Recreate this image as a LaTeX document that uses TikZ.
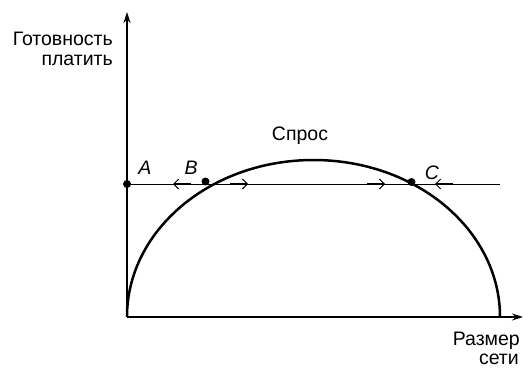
\documentclass[tikz,border=0pt]{standalone}
\usepackage{fontspec}
\setmainfont{Liberation Sans}
\usetikzlibrary{arrows.meta}
\begin{document}
\begin{tikzpicture}[x=1pt,y=-1pt,
  lbl/.style={font=\fontsize{19.5}{21}\selectfont, inner sep=0pt},
  ilbl/.style={lbl, font=\fontsize{19.5}{21}\selectfont\itshape},
  dot/.style={circle,fill=black,inner sep=0pt,minimum size=8pt},
  axis/.style={line width=1.2pt,-{Stealth[length=11pt,width=7pt]}},
  flow/.style={line width=1.1pt,-{Straight Barb[length=5pt,width=10pt,line width=1pt]}}]
\useasboundingbox (0,0) rectangle (524,367);
% axes
\coordinate (O) at (127,317);
\coordinate (Ytop) at (127,12);
\coordinate (Xend) at (523,317);
\draw[axis] (O) -- (Ytop);
\draw[axis] (O) -- (Xend);
% demand curve
\draw[line width=2.5pt] (127,317) arc[start angle=180,end angle=360,x radius=186.5,y radius=157];
% horizontal price line
\coordinate (Lend) at (500,184);
\node[dot] (A) at (127,184) {};
\draw[line width=0.9pt] (A.center) -- (Lend);
\node[dot] (B) at (205.5,181.5) {};
\node[dot] (C) at (411.5,182) {};
% flow arrows
\coordinate (b1s) at (191,184); \coordinate (b1e) at (173,184);
\coordinate (b2s) at (230,184); \coordinate (b2e) at (248,184);
\coordinate (c1s) at (367,184); \coordinate (c1e) at (385,184);
\coordinate (c2s) at (453,184); \coordinate (c2e) at (435,184);
\draw[flow] (b1s) -- (b1e);
\draw[flow] (b2s) -- (b2e);
\draw[flow] (c1s) -- (c1e);
\draw[flow] (c2s) -- (c2e);
% labels
\node[ilbl,anchor=base] (lA) at (145,174) {A};
\node[ilbl,anchor=base] (lB) at (191,174) {B};
\node[ilbl,anchor=base] (lC) at (432,179) {C};
\node[lbl,anchor=base] (lD) at (300,140) {Спрос};
\node[lbl,anchor=base east] (ly1) at (113,45) {Готовность};
\node[lbl,anchor=base east] (ly2) at (113,65) {платить};
\node[lbl,anchor=base east] (lx1) at (520,345) {Размер};
\node[lbl,anchor=base east] (lx2) at (519,364) {сети};
\end{tikzpicture}
\end{document}
